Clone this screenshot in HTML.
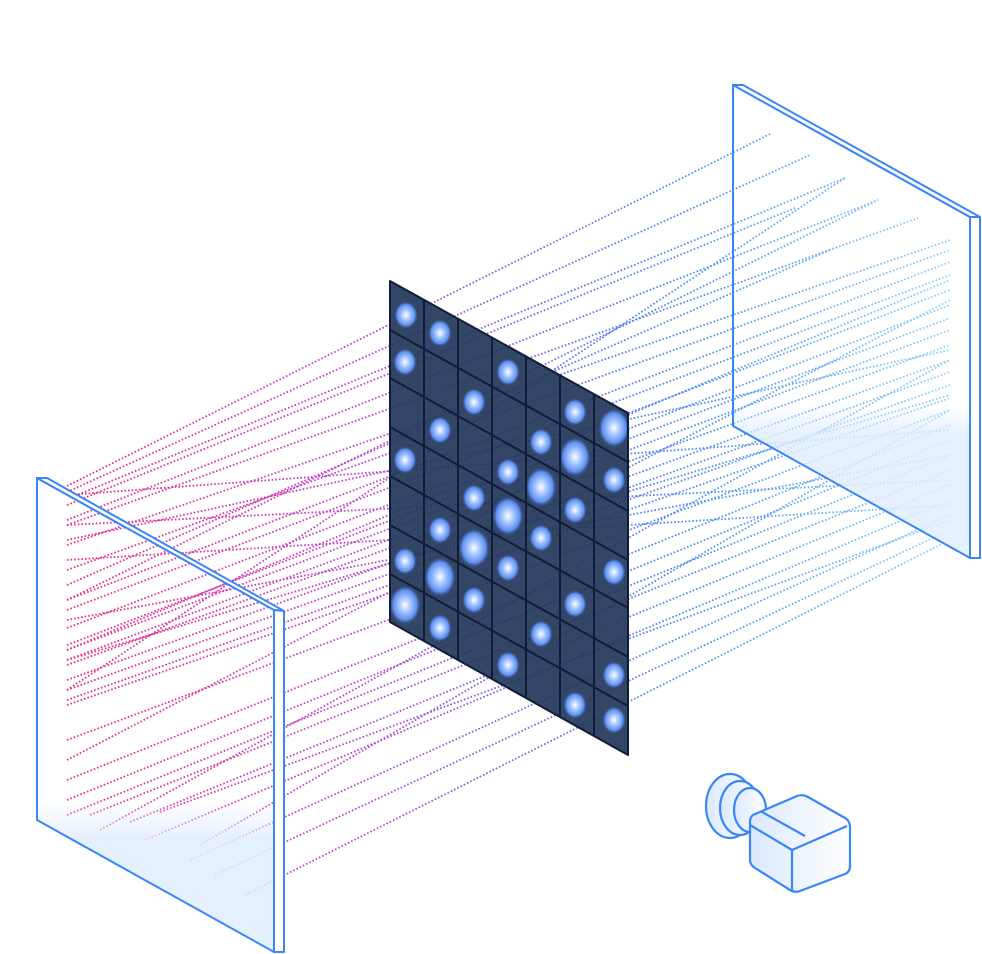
<!DOCTYPE html>
<html><head><meta charset="utf-8"><style>html,body{margin:0;padding:0;background:#fff}svg{display:block}</style></head>
<body>
<svg width="982" height="954" viewBox="0 0 982 954" xmlns="http://www.w3.org/2000/svg">
<defs>
<linearGradient id="beam" gradientUnits="userSpaceOnUse" x1="60" y1="0" x2="950" y2="0">
<stop offset="0" stop-color="#ee2a7b"/><stop offset="0.3" stop-color="#c23fc8"/><stop offset="0.5" stop-color="#8060e8"/><stop offset="0.72" stop-color="#4a8ef0"/><stop offset="1" stop-color="#90d2f5"/>
</linearGradient>
<linearGradient id="lm" gradientUnits="userSpaceOnUse" x1="0" y1="800" x2="0" y2="840">
<stop offset="0" stop-color="#e0edfd" stop-opacity="0"/><stop offset="1" stop-color="#e0edfd" stop-opacity="0.85"/>
</linearGradient>
<linearGradient id="rm" gradientUnits="userSpaceOnUse" x1="0" y1="405" x2="0" y2="435">
<stop offset="0" stop-color="#e0edfd" stop-opacity="0"/><stop offset="1" stop-color="#e0edfd" stop-opacity="0.8"/>
</linearGradient>
<radialGradient id="blob" cx="0.5" cy="0.5" r="0.5">
<stop offset="0" stop-color="#ffffff"/><stop offset="0.35" stop-color="#a9c8ff"/><stop offset="0.75" stop-color="#5d8ef0"/><stop offset="1" stop-color="#2f4a7a" stop-opacity="0"/>
</radialGradient>
<linearGradient id="cam" x1="0" y1="0" x2="1" y2="0">
<stop offset="0" stop-color="#dbe9fd"/><stop offset="1" stop-color="#ffffff"/>
</linearGradient>
</defs>

<g stroke="url(#beam)" stroke-width="1.8" stroke-dasharray="1.6 2" fill="none">
<line x1="67" y1="486" x2="772" y2="133"/>
<line x1="67" y1="492" x2="810" y2="155"/>
<line x1="75" y1="496" x2="845" y2="178"/>
<line x1="67" y1="505" x2="795" y2="208"/>
<line x1="67" y1="520" x2="878" y2="200"/>
<line x1="67" y1="525" x2="918" y2="218"/>
<line x1="67" y1="545" x2="950" y2="240"/>
<line x1="67" y1="570" x2="950" y2="250"/>
<line x1="67" y1="585" x2="830" y2="250"/>
<line x1="67" y1="600" x2="950" y2="262"/>
<line x1="67" y1="610" x2="950" y2="275"/>
<line x1="67" y1="628" x2="950" y2="290"/>
<line x1="67" y1="645" x2="950" y2="305"/>
<line x1="67" y1="650" x2="950" y2="318"/>
<line x1="67" y1="660" x2="950" y2="330"/>
<line x1="67" y1="665" x2="950" y2="345"/>
<line x1="67" y1="680" x2="950" y2="360"/>
<line x1="67" y1="690" x2="950" y2="372"/>
<line x1="67" y1="700" x2="950" y2="385"/>
<line x1="67" y1="705" x2="950" y2="398"/>
<line x1="67" y1="740" x2="950" y2="410"/>
<line x1="67" y1="780" x2="950" y2="425"/>
<line x1="67" y1="800" x2="950" y2="440"/>
<line x1="67" y1="815" x2="950" y2="455"/>
<line x1="90" y1="815" x2="950" y2="470"/>
<line x1="130" y1="822" x2="950" y2="485"/>
<line x1="145" y1="840" x2="950" y2="500"/>
<line x1="190" y1="860" x2="950" y2="515"/>
<line x1="215" y1="875" x2="950" y2="530"/>
<line x1="245" y1="895" x2="950" y2="540"/>
<line x1="160" y1="812" x2="950" y2="520"/>
<line x1="67" y1="525" x2="950" y2="480"/>
<line x1="67" y1="560" x2="950" y2="505"/>
<line x1="67" y1="495" x2="950" y2="430"/>
<line x1="67" y1="620" x2="950" y2="455"/>
<line x1="67" y1="660" x2="950" y2="395"/>
<line x1="67" y1="540" x2="950" y2="350"/>
<line x1="67" y1="600" x2="878" y2="200"/>
<line x1="67" y1="690" x2="845" y2="178"/>
<line x1="67" y1="760" x2="950" y2="300"/>
<line x1="67" y1="650" x2="950" y2="280"/>
<line x1="100" y1="830" x2="950" y2="360"/>
<line x1="200" y1="845" x2="950" y2="410"/>
</g>

<polygon points="37,478 274,610 274,952 37,820" fill="url(#lm)"/>
<polygon points="37,478 274,610 274,952 37,820" fill="none" stroke="#3b86f5" stroke-width="2" stroke-linejoin="round"/>
<polygon points="37,478 47,478 284,611 274,610" fill="#fff" stroke="#3b86f5" stroke-width="2" stroke-linejoin="round"/>
<polygon points="274,610 284,611 284,952 274,952" fill="#fff" stroke="#3b86f5" stroke-width="2" stroke-linejoin="round"/>

<polygon points="733,85 970,217 970,558 733,426" fill="url(#rm)"/>
<polygon points="733,85 970,217 970,558 733,426" fill="none" stroke="#3b86f5" stroke-width="2" stroke-linejoin="round"/>
<polygon points="733,85 743,85 980,217 970,217" fill="#fff" stroke="#3b86f5" stroke-width="2" stroke-linejoin="round"/>
<polygon points="970,217 980,217 980,558 970,558" fill="#fff" stroke="#3b86f5" stroke-width="2" stroke-linejoin="round"/>

<polygon points="390,281 628,413 628,755 390,622" fill="#223659" fill-opacity="0.92"/>
<g fill="url(#blob)">
<ellipse cx="406" cy="315" rx="12" ry="14"/>
<ellipse cx="440" cy="333" rx="12" ry="14"/>
<ellipse cx="405" cy="362" rx="12" ry="14"/>
<ellipse cx="508" cy="372" rx="12" ry="14"/>
<ellipse cx="474" cy="402" rx="12" ry="14"/>
<ellipse cx="575" cy="412" rx="12" ry="14"/>
<ellipse cx="614" cy="428" rx="16" ry="20"/>
<ellipse cx="440" cy="430" rx="12" ry="14"/>
<ellipse cx="541" cy="442" rx="12" ry="14"/>
<ellipse cx="575" cy="457" rx="16" ry="20"/>
<ellipse cx="405" cy="460" rx="12" ry="14"/>
<ellipse cx="508" cy="472" rx="12" ry="14"/>
<ellipse cx="541" cy="487" rx="16" ry="20"/>
<ellipse cx="614" cy="480" rx="12" ry="14"/>
<ellipse cx="474" cy="498" rx="12" ry="14"/>
<ellipse cx="508" cy="516" rx="16" ry="20"/>
<ellipse cx="575" cy="510" rx="12" ry="14"/>
<ellipse cx="440" cy="530" rx="12" ry="14"/>
<ellipse cx="474" cy="548" rx="16" ry="20"/>
<ellipse cx="541" cy="538" rx="12" ry="14"/>
<ellipse cx="405" cy="561" rx="12" ry="14"/>
<ellipse cx="440" cy="577" rx="16" ry="20"/>
<ellipse cx="508" cy="568" rx="12" ry="14"/>
<ellipse cx="614" cy="572" rx="12" ry="14"/>
<ellipse cx="405" cy="605" rx="16" ry="20"/>
<ellipse cx="474" cy="600" rx="12" ry="14"/>
<ellipse cx="440" cy="628" rx="12" ry="14"/>
<ellipse cx="575" cy="604" rx="12" ry="14"/>
<ellipse cx="541" cy="634" rx="12" ry="14"/>
<ellipse cx="508" cy="665" rx="12" ry="14"/>
<ellipse cx="614" cy="675" rx="12" ry="14"/>
<ellipse cx="575" cy="705" rx="12" ry="14"/>
<ellipse cx="614" cy="720" rx="12" ry="14"/>
</g>
<g stroke="#0f1d38" stroke-width="2" fill="none">
<line x1="424" y1="300" x2="424" y2="641"/>
<line x1="458" y1="319" x2="458" y2="660"/>
<line x1="492" y1="338" x2="492" y2="679"/>
<line x1="526" y1="356" x2="526" y2="698"/>
<line x1="560" y1="375" x2="560" y2="717"/>
<line x1="594" y1="394" x2="594" y2="736"/>
<line x1="390" y1="330" x2="628" y2="462"/>
<line x1="390" y1="378" x2="628" y2="511"/>
<line x1="390" y1="427" x2="628" y2="560"/>
<line x1="390" y1="476" x2="628" y2="608"/>
<line x1="390" y1="525" x2="628" y2="657"/>
<line x1="390" y1="574" x2="628" y2="706"/>
<polygon points="390,281 628,413 628,755 390,622" stroke-linejoin="round"/>
</g>

<g stroke="#3b86f5" stroke-width="2.2" stroke-linejoin="round" fill="url(#cam)">
<ellipse cx="730" cy="806" rx="24" ry="32"/>
<ellipse cx="740" cy="808" rx="20" ry="27"/>
<ellipse cx="750" cy="810" rx="16" ry="22"/>
<path d="M753,815 L797,796 Q803,794 808,797 L845,818 Q850,821 850,827 L850,866 Q850,872 845,874 L800,891 Q795,893 790,890 L755,868 Q750,865 750,860 L750,822 Q750,817 753,815 Z"/>
<path d="M750,825 L792,850 L847,826" fill="none"/>
<path d="M792,850 L792,890" fill="none"/>
<path d="M762,812 L805,836" fill="none"/>
</g>
</svg>
</body></html>
